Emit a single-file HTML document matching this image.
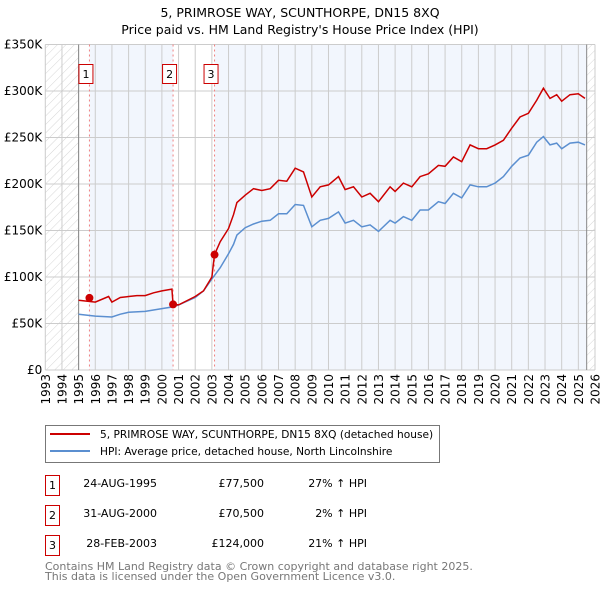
<!DOCTYPE html>
<html><head><meta charset="utf-8"><style>
body{margin:0;background:#fff;font-family:"Liberation Sans","DejaVu Sans",sans-serif;}
svg text{font-family:"DejaVu Sans","Liberation Sans",sans-serif;}
</style></head><body>
<svg id="c" width="600" height="590" xmlns="http://www.w3.org/2000/svg">
<defs><pattern id="hatch" width="6" height="6" patternUnits="userSpaceOnUse" patternTransform="rotate(45)"><line x1="0" y1="0" x2="0" y2="6" stroke="#ccc" stroke-width="0.8"/></pattern></defs>
<text x="300" y="17" text-anchor="middle" font-size="12.5" fill="#000">5, PRIMROSE WAY, SCUNTHORPE, DN15 8XQ</text>
<text x="300" y="34" text-anchor="middle" font-size="12.5" fill="#000">Price paid vs. HM Land Registry's House Price Index (HPI)</text>
<g id="plot"></g>
<g>
<rect x="45.5" y="425.5" width="394" height="37" fill="#fff" stroke="#777"/>
<line x1="50" y1="434" x2="90" y2="434" stroke="#cc0000" stroke-width="2"/>
<text x="100" y="438" font-size="10.6">5, PRIMROSE WAY, SCUNTHORPE, DN15 8XQ (detached house)</text>
<line x1="50" y1="451" x2="90" y2="451" stroke="#5b8fd0" stroke-width="2"/>
<text x="100" y="455" font-size="10.6">HPI: Average price, detached house, North Lincolnshire</text>
</g>
<g font-size="11">
<rect x="45.5" y="475.5" width="14" height="20" fill="#fff" stroke="#cc0000"/><text x="52.5" y="489" text-anchor="middle">1</text>
<text x="157" y="487" text-anchor="end">24-AUG-1995</text><text x="264" y="487" text-anchor="end">£77,500</text><text x="367" y="487" text-anchor="end">27% ↑ HPI</text>
<rect x="45.5" y="505.5" width="14" height="20" fill="#fff" stroke="#cc0000"/><text x="52.5" y="519" text-anchor="middle">2</text>
<text x="157" y="517" text-anchor="end">31-AUG-2000</text><text x="264" y="517" text-anchor="end">£70,500</text><text x="367" y="517" text-anchor="end">2% ↑ HPI</text>
<rect x="45.5" y="535.5" width="14" height="20" fill="#fff" stroke="#cc0000"/><text x="52.5" y="549" text-anchor="middle">3</text>
<text x="157" y="547" text-anchor="end">28-FEB-2003</text><text x="264" y="547" text-anchor="end">£124,000</text><text x="367" y="547" text-anchor="end">21% ↑ HPI</text>
</g>
<text x="45" y="570" font-size="11" fill="#777">Contains HM Land Registry data © Crown copyright and database right 2025.</text>
<text x="45" y="580" font-size="11" fill="#777">This data is licensed under the Open Government Licence v3.0.</text>
</svg>
<script>
const hpiYears=[1995,1996,1997,1997.5,1998,1999,2000,2000.7,2001,2002,2002.5,2003,2003.5,2004,2004.3,2004.5,2005,2005.5,2006,2006.5,2007,2007.5,2008,2008.5,2009,2009.5,2010,2010.6,2011,2011.5,2012,2012.5,2013,2013.7,2014,2014.5,2015,2015.5,2016,2016.6,2017,2017.5,2018,2018.5,2019,2019.5,2020,2020.5,2021,2021.5,2022,2022.5,2022.9,2023.3,2023.7,2024,2024.5,2025,2025.4];
const hpiValues=[60,58,57,60,62,63,66,68,70,78,85,98,110,125,135,145,153,157,160,161,168,168,178,177,154,161,163,170,158,161,154,156,149,161,158,165,161,172,172,181,179,190,185,199,197,197,201,208,219,228,231,245,251,242,244,238,244,245,242];
const priceYears=[1995,1996,1996.8,1997,1997.5,1998,1998.5,1999,1999.5,2000,2000.6,2000.67,2001,2002,2002.5,2003,2003.16,2003.5,2004,2004.3,2004.5,2005,2005.5,2006,2006.5,2007,2007.5,2008,2008.5,2009,2009.5,2010,2010.6,2011,2011.5,2012,2012.5,2013,2013.7,2014,2014.5,2015,2015.5,2016,2016.6,2017,2017.5,2018,2018.5,2019,2019.5,2020,2020.5,2021,2021.5,2022,2022.5,2022.9,2023.3,2023.7,2024,2024.5,2025,2025.4];
const priceValues=[75,73,79,73,78,79,80,80,83,85,87,70.5,70,79,85,100,124,138,152,167,180,188,195,193,195,204,203,217,213,186,197,199,208,194,197,186,190,181,197,192,201,197,208,211,220,219,229,224,242,238,238,242,247,260,272,276,290,303,292,296,289,296,297,292];
const saleYears=[1995.65,2000.67,2003.16];
const saleValues=[77.5,70.5,124];
const saleLabels=["1","2","3"];
const yTicks=[0,50,100,150,200,250,300,350];
const yTickLabels=["£0","£50K","£100K","£150K","£200K","£250K","£300K","£350K"];
const xTicks=[1993,1994,1995,1996,1997,1998,1999,2000,2001,2002,2003,2004,2005,2006,2007,2008,2009,2010,2011,2012,2013,2014,2015,2016,2017,2018,2019,2020,2021,2022,2023,2024,2025,2026];

const X0=45.3,X1=595,Y0=370,Y1=44.5;
const sx=y=>X0+(y-1993)/(2026-1993)*(X1-X0);
const sy=v=>Y0-v/350*(Y0-Y1);
const NS="http://www.w3.org/2000/svg";
const g=document.getElementById('plot');
function mk(t,a,p){const e=document.createElementNS(NS,t);for(const k in a)e.setAttribute(k,a[k]);(p||g).appendChild(e);return e;}
let r;
r=mk('rect',{x:sx(1993),y:Y1,width:sx(1995)-sx(1993),height:Y0-Y1,fill:'url(#hatch)'});


r=mk('rect',{x:sx(2025.5),y:Y1,width:sx(2026)-sx(2025.5),height:Y0-Y1,fill:'url(#hatch)'});


r=mk('rect',{x:sx(saleYears[0]),y:Y1,width:sx(saleYears[1])-sx(saleYears[0]),height:Y0-Y1,fill:'#f2f6fd'});


r=mk('rect',{x:sx(saleYears[2]),y:Y1,width:sx(2025.5)-sx(saleYears[2]),height:Y0-Y1,fill:'#f2f6fd'});


yTicks.forEach((v,i)=>{
 const l=mk('line',{x1:X0,x2:X1,y1:sy(v),y2:sy(v),stroke:'#ccc','stroke-width':1});
 
 
 const t=mk('text',{x:X0-3,y:sy(v)+4,'text-anchor':'end','font-size':'12',fill:'#000'});
 t.textContent=yTickLabels[i];
 
 
});
xTicks.forEach(y=>{
 const l=mk('line',{x1:sx(y),x2:sx(y),y1:Y1,y2:Y0,stroke:'#ccc','stroke-width':1});
 
 
 const t=mk('text',{x:0,y:0,'font-size':'12',fill:'#000','text-anchor':'end',transform:`translate(${sx(y)+4.5},374) rotate(-90)`});
 t.textContent=y;
 
 
});
r=mk('line',{x1:sx(1995),x2:sx(1995),y1:Y1,y2:Y0,stroke:'#888'});


r=mk('line',{x1:sx(2025.5),x2:sx(2025.5),y1:Y1,y2:Y0,stroke:'#888'});


saleYears.forEach(y=>{
 const l=mk('line',{x1:sx(y),x2:sx(y),y1:Y1,y2:Y0,stroke:'#f08080','stroke-dasharray':'2,3'});
 
 
});
const pts=(xs,vs)=>xs.map((y,i)=>sx(y).toFixed(1)+','+sy(vs[i]).toFixed(1)).join(' ');
const hp=mk('polyline',{points:pts(hpiYears,hpiValues),fill:'none',stroke:'#5b8fd0','stroke-width':1.5});


const pp=mk('polyline',{points:pts(priceYears,priceValues),fill:'none',stroke:'#cc0000','stroke-width':1.5});


saleYears.forEach((y,i)=>{
 const c=mk('circle',{cx:sx(y),cy:sy(saleValues[i]),r:4,fill:'#cc0000'});
 
 
 const b=mk('rect',{x:sx(y)-10.5,y:64.5,width:14,height:19,fill:'#fff',stroke:'#cc0000'});
 
 
 const t=mk('text',{x:sx(y)-3.5,y:78,'text-anchor':'middle','font-size':'11'});
 t.textContent=saleLabels[i];
 
 
});
</script>
</body></html>
